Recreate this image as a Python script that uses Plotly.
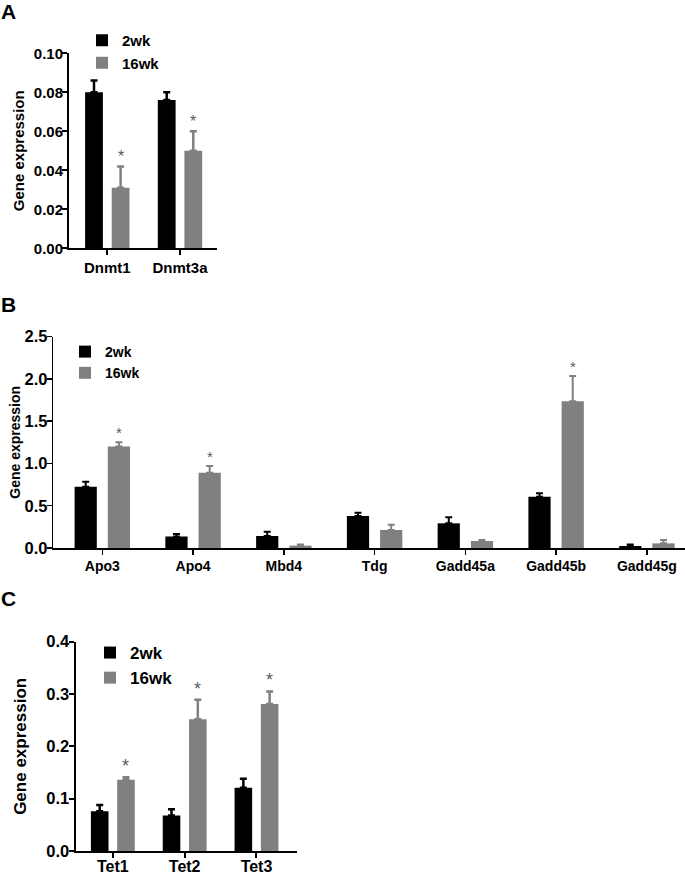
import plotly.graph_objects as go

# ---------------- data ----------------
series_names = ["2wk", "16wk"]

a_genes = ["Dnmt1", "Dnmt3a"]
a_2wk = [0.080, 0.076]
a_2wk_err = [0.006, 0.004]
a_16wk = [0.031, 0.050]
a_16wk_err = [0.011, 0.010]
a_sig = [True, True]

b_genes = ["Apo3", "Apo4", "Mbd4", "Tdg", "Gadd45a", "Gadd45b", "Gadd45g"]
b_2wk = [0.725, 0.135, 0.142, 0.379, 0.292, 0.607, 0.024]
b_2wk_err = [0.060, 0.031, 0.051, 0.039, 0.071, 0.040, 0.016]
b_16wk = [1.20, 0.89, 0.028, 0.213, 0.083, 1.736, 0.055]
b_16wk_err = [0.05, 0.08, 0.012, 0.063, 0.012, 0.30, 0.040]
b_sig = [True, True, False, False, False, True, False]

c_genes = ["Tet1", "Tet2", "Tet3"]
c_2wk = [0.076, 0.068, 0.121]
c_2wk_err = [0.012, 0.012, 0.017]
c_16wk = [0.136, 0.252, 0.281]
c_16wk_err = [0.005, 0.037, 0.024]
c_sig = [True, True, True]

# ---------------- style ----------------
FONT = "Arial, 'Liberation Sans', sans-serif"
BLACK = "#000000"
GRAY = "#808080"
STAR = "#5a5a5a"
W, H = 685, 874


def fx(p):
    return p / W


def fy(p):
    return 1 - p / H


panels = [
    dict(letter="A", genes=a_genes, v2=a_2wk, e2=a_2wk_err, v16=a_16wk, e16=a_16wk_err, sig=a_sig,
         xdom=(69, 217), ydom=(53.3, 248.3), xr=(-0.527, 1.509), yr=(0, 0.1), dtick=0.02, fmt=".2f",
         fs=15, xfs=15, yfs=15, lw=2, eth=2.5, sfs=16, leg=(82, 24), letter_y=-2, tstand=6, xstand=0),
    dict(letter="B", genes=b_genes, v2=b_2wk, e2=b_2wk_err, v16=b_16wk, e16=b_16wk_err, sig=b_sig,
         xdom=(53.3, 685), ydom=(336.7, 548), xr=(-0.54, 6.42), yr=(0, 2.5), dtick=0.5, fmt=".1f",
         fs=14, xfs=14, yfs=16.5, lw=1.5, eth=2, sfs=15, leg=(65, 336), letter_y=291, tstand=0, xstand=0),
    dict(letter="C", genes=c_genes, v2=c_2wk, e2=c_2wk_err, v16=c_16wk, e16=c_16wk_err, sig=c_sig,
         xdom=(75.5, 297), ydom=(641.7, 851), xr=(-0.52, 2.564), yr=(0, 0.4), dtick=0.1, fmt=".1f",
         fs=17, xfs=16, yfs=16.5, lw=2, eth=2.5, sfs=18, leg=(90, 635), letter_y=585, tstand=15, xstand=-5),
]

OFFSET = 0.183

fig = go.Figure()
annotations = []
layout = dict(
    width=W, height=H,
    margin=dict(l=0, r=0, t=0, b=0, pad=0, autoexpand=False),
    paper_bgcolor="white", plot_bgcolor="white",
    barmode="group", bargap=0.268, bargroupgap=0.331,
    showlegend=True,
    font=dict(family=FONT, color="black"),
)

for k, p in enumerate(panels):
    sfx = "" if k == 0 else str(k + 1)
    xa, ya = "x" + sfx, "y" + sfx
    legname = "legend" + sfx
    fs = p["fs"]
    for name, vals, errs, col in [
        (series_names[0], p["v2"], p["e2"], BLACK),
        (series_names[1], p["v16"], p["e16"], GRAY),
    ]:
        fig.add_trace(go.Bar(
            x=p["genes"], y=vals, name=name, xaxis=xa, yaxis=ya,
            marker=dict(color=col, line=dict(width=0)),
            error_y=dict(type="data", symmetric=False, array=errs, arrayminus=[0] * len(errs),
                         color=col, thickness=p["eth"], width=3.5),
            legend=legname,
        ))
    # significance asterisks above 16wk bars
    for i, (v, e, s) in enumerate(zip(p["v16"], p["e16"], p["sig"])):
        if s:
            annotations.append(dict(
                x=i + OFFSET, y=v + e, xref=xa, yref=ya, text="*", showarrow=False,
                yanchor="bottom", xanchor="center", yshift=-1,
                font=dict(size=p["sfs"], color=STAR, family=FONT),
            ))
    # panel letter
    annotations.append(dict(
        x=0.0, y=fy(p["letter_y"]), xref="paper", yref="paper", text="<b>%s</b>" % p["letter"],
        showarrow=False, xanchor="left", yanchor="top", xshift=-1,
        font=dict(size=21, family=FONT, color="black"),
    ))
    axis_common = dict(showline=True, linecolor="black", linewidth=p["lw"], ticks="outside",
                       ticklen=5, tickwidth=p["lw"], tickcolor="black", showgrid=False,
                       zeroline=False, fixedrange=True, automargin=False)
    layout["xaxis" + sfx] = dict(
        domain=[fx(p["xdom"][0]), fx(p["xdom"][1])], range=list(p["xr"]), anchor=ya,
        type="category", tickfont=dict(size=p["xfs"], family=FONT, weight="bold", color="black"),
        ticklabelstandoff=p["xstand"],
        **axis_common,
    )
    layout["yaxis" + sfx] = dict(
        domain=[fy(p["ydom"][1]), fy(p["ydom"][0])], range=list(p["yr"]), anchor=xa,
        dtick=p["dtick"], tick0=0, tickformat=p["fmt"], ticklabelstandoff=-4,
        tickfont=dict(size=p["yfs"], family=FONT, weight="bold", color="black"),
        title=dict(text="Gene expression", font=dict(size=fs, family=FONT, weight="bold", color="black"),
                   standoff=p["tstand"]),
        **axis_common,
    )
    layout[legname] = dict(
        x=fx(p["leg"][0]), y=fy(p["leg"][1]), xanchor="left", yanchor="top",
        bgcolor="rgba(0,0,0,0)", borderwidth=0,
        font=dict(size=fs, family=FONT, weight="bold", color="black"),
    )

layout["annotations"] = annotations
fig.update_layout(**layout)
fig.write_html(
    "out.html",
    config={"displayModeBar": False, "staticPlot": True},
    post_script="document.body.style.margin='0';document.body.style.padding='0';",
)
